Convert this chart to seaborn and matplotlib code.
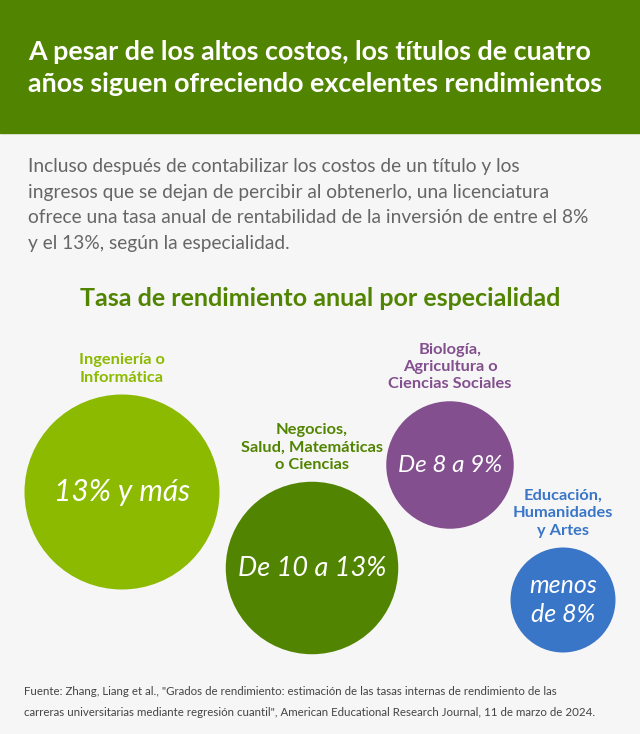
import matplotlib
matplotlib.use("Agg")
import matplotlib.pyplot as plt
import seaborn as sns
import pandas as pd
from matplotlib.patches import Rectangle

# datos
especialidades = ["Ingeniería o\nInformática",
                  "Negocios,\nSalud, Matemáticas\no Ciencias",
                  "Biología,\nAgricultura o\nCiencias Sociales",
                  "Educación,\nHumanidades\ny Artes"]
rangos = ["13% y más", "De 10 a 13%", "De 8 a 9%", "menos\nde 8%"]
tasa = [13, 11.5, 8.5, 7]
colores = ["#8BBA00", "#518400", "#834F8E", "#3A76C8"]

# layout (pixeles)
cx = [122, 312, 450, 563]
cy = [492, 568, 465, 600]
px_por_punto = 7.5

W, H = 640, 734
sns.set_theme(style="white")
plt.rcParams['font.family'] = ['Lato', 'DejaVu Sans']

fig = plt.figure(figsize=(W / 100, H / 100), dpi=100)
fig.patch.set_facecolor("#F6F6F6")
ax = fig.add_axes([0, 0, 1, 1])
ax.set_xlim(0, W)
ax.set_ylim(H, 0)
ax.axis("off")

ax.add_patch(Rectangle((0, 0), W, 133, color="#518400", zorder=0))

df = pd.DataFrame({"x": cx, "y": cy, "tasa": tasa, "esp": especialidades})
sizes = {v: (2 * px_por_punto * v * 0.72) ** 2 for v in tasa}
sns.scatterplot(data=df, x="x", y="y", size="tasa", sizes=sizes, hue="esp",
                palette=colores, linewidth=0, alpha=1, legend=False, ax=ax, zorder=2)

# textos dentro de los circulos
fs_in = [21.5, 19.5, 17.5, 18]
for i in range(4):
    ax.text(cx[i], cy[i], rangos[i], ha="center", va="center", color="white",
            fontsize=fs_in[i], fontstyle="italic", fontweight="normal",
            linespacing=1.3, zorder=3)

# etiquetas de especialidad
for i in range(4):
    r = px_por_punto * tasa[i]
    ax.text(cx[i], cy[i] - r - 10, especialidades[i], ha="center", va="bottom",
            color=colores[i], fontsize=11.8, fontweight="bold", linespacing=1.3)

fig.text(28 / W, 1 - 68 / H, "A pesar de los altos costos, los títulos de cuatro\n"
         "años siguen ofreciendo excelentes rendimientos",
         color="white", fontsize=19.4, fontweight="bold", va="center", ha="left",
         linespacing=1.4)

fig.text(28 / W, 1 - 205 / H,
         "Incluso después de contabilizar los costos de un título y los\n"
         "ingresos que se dejan de percibir al obtenerlo, una licenciatura\n"
         "ofrece una tasa anual de rentabilidad de la inversión de entre el 8%\n"
         "y el 13%, según la especialidad.",
         color="#666666", fontsize=13.8, va="center", ha="left", linespacing=1.6)

fig.text(0.5, 1 - 299 / H, "Tasa de rendimiento anual por especialidad",
         color="#518400", fontsize=18, fontweight="bold", ha="center", va="center")

fig.text(24 / W, 1 - 702 / H,
         "Fuente: Zhang, Liang et al., \"Grados de rendimiento: estimación de las tasas internas de rendimiento de las\n"
         "carreras universitarias mediante regresión cuantil\", American Educational Research Journal, 11 de marzo de 2024.",
         color="#444444", fontsize=8.3, ha="left", va="center", linespacing=2.05)

fig.savefig("out.png", dpi=100, facecolor=fig.get_facecolor())
